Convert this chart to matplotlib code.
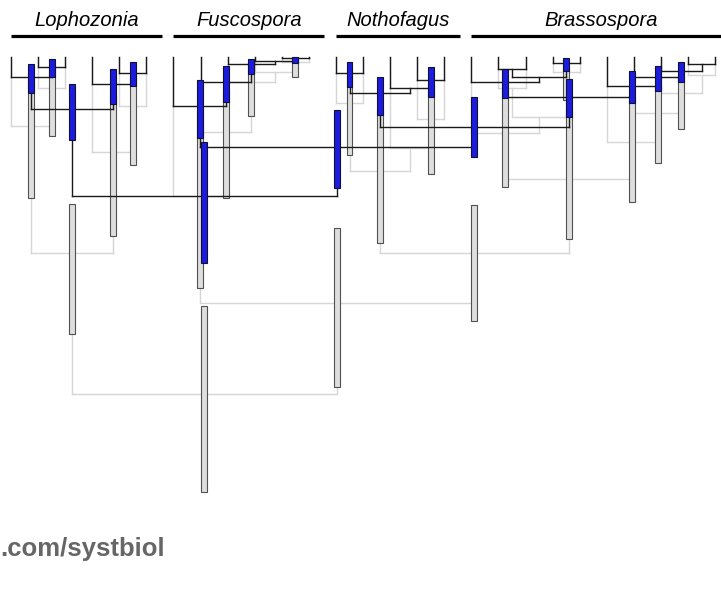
import matplotlib
matplotlib.use("Agg")
import matplotlib.pyplot as plt

# tips are evenly spaced along the top; x is the tip index
N_TIPS = 27
TIP_DEPTH = 57

CLADES = ["Lophozonia", "Fuscospora", "Nothofagus", "Brassospora"]
CLADE_FIRST = [0, 6, 12, 17]
CLADE_LAST = [5, 11, 16, 26]

# node: (left child, right child, node depth, bar top, bar bottom)
# ints are tip indices, strings are other nodes; depth grows downward
TREE_DARK = {
    "A": (1, 2, 67, 59, 77),
    "B": (0, "A", 77, 64, 93),
    "E": (4, 5, 73, 62, 86),
    "D": (3, "E", 84, 69, 104),
    "C": ("B", "D", 109, 84, 140),
    "I": (10, 11, 58, 57, 63),
    "K": (9, "I", 61, None, None),
    "H": (8, "K", 64, 59, 74),
    "G": (7, "H", 82, 66, 102),
    "P": (6, "G", 106, 80, 138),
    "S": (12, 13, 73, 62, 87),
    "T": (15, 16, 80, 67, 97),
    "U": (14, "T", 88, None, None),
    "V": ("S", "U", 93, 77, 115),
    "Z1": (18, 19, 69, None, None),
    "Z3": (20, 21, 63, 58, 71),
    "Z4": ("Z1", "Z3", 77, None, None),
    "Z5": (17, "Z4", 82, 69, 98),
    "Y1": (25, 26, 64, None, None),
    "Y2": (24, "Y1", 71, 62, 82),
    "Y3": (23, "Y2", 77, 66, 91),
    "Y4": (22, "Y3", 86, 71, 103),
    "Y5": ("Z5", "Y4", 97, 79, 117),
    "W": ("V", "Y5", 127, 97, 157),
    "Q": ("P", "W", 147, 110, 188),
    "R": ("C", "Q", 196, 142, 263),
}

TREE_LIGHT = {
    "A": (1, 2, 88, 65, 136),
    "B": (0, "A", 126, 80, 198),
    "E": (4, 5, 106, 75, 165),
    "D": (3, "E", 152, 95, 236),
    "C": ("B", "D", 253, 204, 334),
    "I": (10, 11, 62, 58, 77),
    "K": (9, "I", 72, None, None),
    "H": (8, "K", 82, 62, 116),
    "G": (7, "H", 132, 90, 198),
    "P": (6, "G", 196, 110, 288),
    "S": (12, 13, 103, 70, 155),
    "T": (15, 16, 119, 85, 174),
    "U": (14, "T", 148, None, None),
    "V": ("S", "U", 171, 110, 243),
    "Z1": (18, 19, 88, None, None),
    "Z3": (20, 21, 72, 68, 100),
    "Z4": ("Z1", "Z3", 117, None, None),
    "Z5": (17, "Z4", 133, 90, 187),
    "Y1": (25, 26, 75, None, None),
    "Y2": (24, "Y1", 93, 75, 129),
    "Y3": (23, "Y2", 113, 85, 163),
    "Y4": (22, "Y3", 142, 95, 202),
    "Y5": ("Z5", "Y4", 179, 110, 239),
    "W": ("V", "Y5", 253, 205, 321),
    "Q": ("P", "W", 303, 228, 387),
    "R": ("C", "Q", 394, 306, 492),
}


def node_x(tree, key):
    if isinstance(key, int):
        return float(key)
    left, right = tree[key][0], tree[key][1]
    return (node_x(tree, left) + node_x(tree, right)) / 2


def node_depth(tree, key):
    if isinstance(key, int):
        return TIP_DEPTH
    return tree[key][2]


def draw_branches(ax, tree, color, lw, z):
    for key, (left, right, depth, _, _) in tree.items():
        xl, xr = node_x(tree, left), node_x(tree, right)
        ax.plot([xl, xr], [depth, depth], color=color, lw=lw, zorder=z,
                solid_capstyle="projecting")
        for child in (left, right):
            cx = node_x(tree, child)
            ax.plot([cx, cx], [node_depth(tree, child), depth], color=color,
                    lw=lw, zorder=z, solid_capstyle="projecting")


def draw_bars(ax, tree, face, edge, z):
    for key, (_, _, _, top, bottom) in tree.items():
        if top is None:
            continue
        ax.bar(node_x(tree, key), bottom - top, bottom=top, width=0.22,
               color=face, edgecolor=edge, linewidth=0.8, zorder=z)


fig = plt.figure(figsize=(7.21, 5.92), dpi=100)
ax = fig.add_axes([0, 0, 1, 1])
step = 27.08
ax.set_xlim(-11 / step, (721 - 11) / step)
ax.set_ylim(592, 0)
ax.axis("off")

draw_branches(ax, TREE_LIGHT, "#d6d6d6", 1.0, 1)
draw_bars(ax, TREE_LIGHT, "#dedede", "#505050", 2)
draw_branches(ax, TREE_DARK, "#1a1a1a", 1.0, 3)
draw_bars(ax, TREE_DARK, "#1c1ce0", "#101030", 4)

for name, first, last in zip(CLADES, CLADE_FIRST, CLADE_LAST):
    x0, x1 = first, last + 0.57
    ax.plot([x0, x1], [35.5, 35.5], color="black", lw=2.3,
            solid_capstyle="butt", zorder=5)
    ax.text((x0 + x1) / 2, 20, name, ha="center", va="center",
            fontsize=14.5, style="italic", family="Liberation Sans")

fig.text(0.0, 1 - 549 / 592, ".com/systbiol", ha="left", va="center",
         fontsize=18.5, fontweight="bold", color="#666666",
         family="Liberation Sans")

fig.savefig("out.png", dpi=100)
